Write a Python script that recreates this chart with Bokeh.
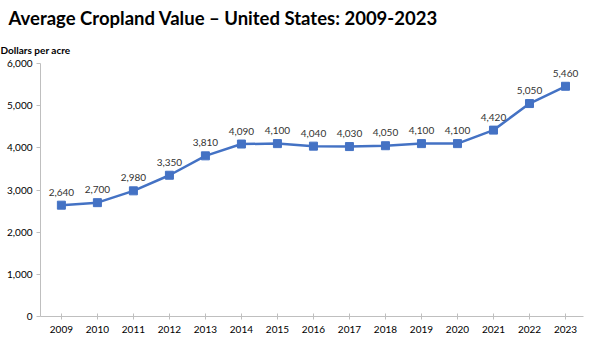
from bokeh.plotting import figure
from bokeh.models import ColumnDataSource, Title, Range1d, FixedTicker, NumeralTickFormatter
from bokeh.embed import file_html
from bokeh.resources import INLINE
from bokeh.core.properties import value

years = [2009, 2010, 2011, 2012, 2013, 2014, 2015, 2016, 2017, 2018, 2019, 2020, 2021, 2022, 2023]
values = [2640, 2700, 2980, 3350, 3810, 4090, 4100, 4040, 4030, 4050, 4100, 4100, 4420, 5050, 5460]
labels = ["{:,}".format(v) for v in values]
y_ticks = [0, 1000, 2000, 3000, 4000, 5000, 6000]

FONT = "Lato"
BLUE = "#4472C4"

src = ColumnDataSource(dict(x=years, y=values, lab=labels))

p = figure(width=600, height=352, output_backend="svg", toolbar_location=None,
           x_range=Range1d(2008.42, 2023.5), y_range=Range1d(0, 6000),
           min_border_left=40, min_border_right=17, min_border_bottom=36,
           min_border_top=0)
p.title = None
p.outline_line_color = None
p.grid.visible = False
p.background_fill_color = "white"

p.add_layout(Title(text="Dollars per acre", text_font=FONT, text_font_size="10px",
                   text_font_style="bold", text_color="#000000", offset=-40,
                   standoff=16), "above")
p.add_layout(Title(text="Average Cropland Value \u2013 United States: 2009-2023",
                   text_font=FONT, text_font_size="18.5px", text_font_style="bold",
                   text_color="#000000", offset=-32, standoff=9), "above")

p.line("x", "y", source=src, line_color=BLUE, line_width=2.5)
p.scatter("x", "y", source=src, marker="square", size=8, fill_color=BLUE, line_color=BLUE)
p.text("x", "y", text="lab", source=src, text_font=value(FONT), text_font_size="10px",
       text_align="center", text_baseline="middle", y_offset=-13, text_color="#333333")

p.xaxis.ticker = FixedTicker(ticks=years)
p.xaxis.major_label_text_font = FONT
p.xaxis.major_label_text_font_size = "10px"
p.xaxis.major_label_text_color = "#000000"
p.xaxis.axis_line_color = "#BFBFBF"
p.xaxis.major_tick_line_color = "#BFBFBF"
p.xaxis.major_tick_in = 3
p.xaxis.major_tick_out = 3
p.xaxis.minor_tick_line_color = None
p.xaxis.major_label_standoff = 6

p.yaxis.ticker = FixedTicker(ticks=y_ticks)
p.yaxis.formatter = NumeralTickFormatter(format="0,0")
p.yaxis.major_label_text_font = FONT
p.yaxis.major_label_text_font_size = "10px"
p.yaxis.major_label_text_color = "#000000"
p.yaxis.axis_line_color = "#BFBFBF"
p.yaxis.major_tick_line_color = "#BFBFBF"
p.yaxis.major_tick_in = 0
p.yaxis.major_tick_out = 4
p.yaxis.minor_tick_line_color = None
p.yaxis.major_label_standoff = 4

open("out.html", "w").write(file_html(p, INLINE))
